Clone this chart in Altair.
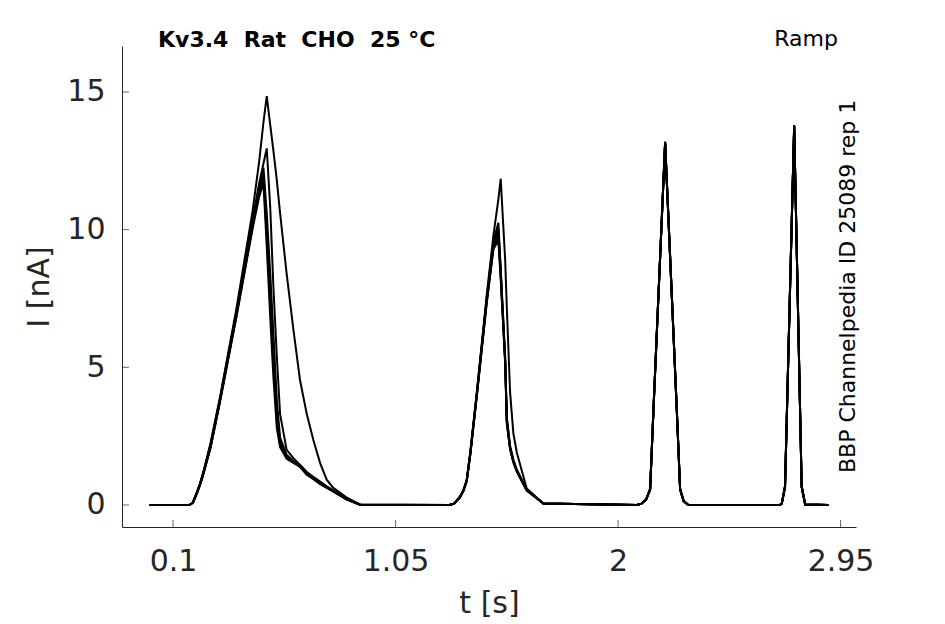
import altair as alt
import pandas as pd

# ---- data ----
T = [0.0, 0.15, 0.17, 0.185, 0.20, 0.215, 0.23, 0.26, 0.30, 0.37, 0.44, 0.468, 0.486, 0.50,
     0.515, 0.528, 0.543, 0.557, 0.585, 0.614, 0.642, 0.671, 0.699, 0.728, 0.756, 0.784, 0.84, 0.898,
     1.28, 1.30, 1.325, 1.34, 1.354, 1.37, 1.397, 1.439, 1.468, 1.489, 1.499, 1.518, 1.525, 1.539, 1.553,
     1.568, 1.61, 1.681,
     2.08, 2.10, 2.12, 2.137, 2.151, 2.201, 2.251, 2.265, 2.28, 2.30,
     2.69, 2.699, 2.713, 2.752, 2.784, 2.799, 2.898]

SWEEP_1 = [0, 0, 0, 0.1, 0.42, 0.78, 1.22, 2.25, 3.9, 7.1, 10.7, 12.5, 13.9, 14.85,
           13.8, 12.9, 11.8, 10.6, 8.4, 6.36, 4.54, 3.3, 2.36, 1.52, 0.92, 0.62, 0.28, 0.02,
           0, 0.05, 0.3, 0.55, 0.92, 2.0, 4.1, 7.6, 9.8, 11.1, 11.85, 8.9, 7.2, 4.1, 2.6,
           1.9, 0.6, 0.05,
           0, 0.05, 0.2, 0.6, 3.45, 13.2, 3.45, 0.6, 0.15, 0,
           0, 0.05, 0.7, 13.8, 0.7, 0.02, 0]
SWEEP_2 = [0, 0, 0, 0.1, 0.41, 0.76, 1.2, 2.2, 3.85, 7.0, 10.4, 11.7, 12.4, 12.95,
           10.8, 8.0, 5.4, 3.3, 2.0, 1.7, 1.45, 1.2, 1.02, 0.85, 0.68, 0.52, 0.22, 0.02,
           0, 0.05, 0.3, 0.54, 0.9, 1.95, 4.05, 7.5, 9.6, 10.25, 8.6, 5.4, 3.2, 2.15, 1.65,
           1.28, 0.56, 0.05,
           0, 0.05, 0.2, 0.58, 3.43, 13.18, 3.43, 0.58, 0.15, 0,
           0, 0.05, 0.68, 13.78, 0.68, 0.02, 0]
SWEEP_3 = [0, 0, 0, 0.09, 0.4, 0.75, 1.18, 2.15, 3.8, 6.95, 10.3, 11.6, 12.25, 10.6,
           8.4, 6.3, 3.8, 2.45, 1.82, 1.6, 1.45, 1.18, 1.0, 0.82, 0.66, 0.52, 0.22, 0.01,
           0, 0.05, 0.29, 0.53, 0.9, 1.95, 4.05, 7.45, 9.5, 10.05, 8.5, 5.3, 3.1, 2.1, 1.6,
           1.25, 0.55, 0.05,
           0, 0.05, 0.2, 0.57, 3.42, 13.17, 3.42, 0.57, 0.14, 0,
           0, 0.05, 0.67, 13.77, 0.67, 0.02, 0]
SWEEP_4 = [0, 0, 0, 0.09, 0.4, 0.74, 1.16, 2.12, 3.78, 6.9, 10.2, 11.5, 12.05, 10.2,
           7.8, 5.7, 3.4, 2.3, 1.76, 1.57, 1.42, 1.15, 0.98, 0.8, 0.65, 0.5, 0.21, 0.01,
           0, 0.05, 0.28, 0.52, 0.88, 1.92, 4.0, 7.4, 9.4, 9.9, 8.4, 5.25, 3.05, 2.08, 1.58,
           1.24, 0.54, 0.05,
           0, 0.05, 0.19, 0.56, 3.41, 13.16, 3.41, 0.56, 0.14, 0,
           0, 0.05, 0.66, 13.76, 0.66, 0.02, 0]
SWEEP_5 = [0, 0, 0, 0.08, 0.39, 0.73, 1.15, 2.1, 3.75, 6.85, 10.15, 11.35, 11.9, 9.8,
           7.3, 5.2, 3.1, 2.2, 1.72, 1.55, 1.4, 1.12, 0.96, 0.78, 0.63, 0.5, 0.2, 0.01,
           0, 0.05, 0.28, 0.52, 0.87, 1.9, 3.98, 7.35, 9.35, 9.75, 8.3, 5.2, 3.0, 2.05, 1.56,
           1.22, 0.53, 0.05,
           0, 0.05, 0.19, 0.55, 3.4, 13.15, 3.4, 0.55, 0.14, 0,
           0, 0.05, 0.65, 13.75, 0.65, 0.02, 0]
SWEEP_6 = [0, 0, 0, 0.08, 0.38, 0.72, 1.13, 2.07, 3.72, 6.8, 10.05, 11.2, 11.7, 9.4,
           6.8, 4.7, 2.8, 2.1, 1.68, 1.53, 1.38, 1.1, 0.94, 0.76, 0.62, 0.48, 0.2, 0.01,
           0, 0.05, 0.27, 0.51, 0.86, 1.88, 3.95, 7.3, 9.3, 9.6, 8.2, 5.15, 2.95, 2.02, 1.55,
           1.2, 0.52, 0.05,
           0, 0.05, 0.19, 0.55, 3.4, 13.14, 3.4, 0.55, 0.14, 0,
           0, 0.05, 0.65, 13.74, 0.65, 0.02, 0]

SWEEPS = [SWEEP_1, SWEEP_2, SWEEP_3, SWEEP_4, SWEEP_5, SWEEP_6]

X_TICKS = [0.1, 1.05, 2, 2.95]
Y_TICKS = [0, 5, 10, 15]
X_DOMAIN = [-0.118, 3.016]
Y_DOMAIN = [-0.8, 16.67]

TITLE = "Kv3.4\u00a0\u00a0Rat\u00a0\u00a0CHO\u00a0\u00a025 °C"
PROTOCOL = "Ramp"
SIDE = "BBP Channelpedia ID 25089 rep 1"

rows = []
for k, s in enumerate(SWEEPS):
    for t, v in zip(T, s):
        rows.append({"t": t, "I": v, "sweep": k, "order": t})
df = pd.DataFrame(rows)

FONT = "DejaVu Sans"
AX = "#262626"

xscale = alt.Scale(domain=X_DOMAIN, nice=False, zero=False)
yscale = alt.Scale(domain=Y_DOMAIN, nice=False, zero=False)

lines = alt.Chart(df).mark_line(color="black", strokeWidth=2, clip=True).encode(
    x=alt.X("t:Q", scale=xscale, title="t [s]",
            axis=alt.Axis(values=X_TICKS, labelExpr="format(datum.value, '~g')",
                          ticks=False, tickSize=0,
                          grid=False, labelPadding=19, titlePadding=12)),
    y=alt.Y("I:Q", scale=yscale, title="I [nA]",
            axis=alt.Axis(values=Y_TICKS, labelExpr="format(datum.value, 'd')",
                          ticks=False, tickSize=0,
                          grid=False, labelPadding=17, titlePadding=12)),
    detail="sweep:N",
    order="order:Q",
)

xt = alt.Chart(pd.DataFrame({"t": X_TICKS})).mark_tick(
    clip=True, size=14, thickness=1, color=AX, orient="vertical"
).encode(x=alt.X("t:Q", scale=xscale), y=alt.datum(Y_DOMAIN[0]))

yt = alt.Chart(pd.DataFrame({"I": Y_TICKS})).mark_tick(
    clip=True, size=14, thickness=1, color=AX, orient="horizontal"
).encode(y=alt.Y("I:Q", scale=yscale), x=alt.datum(X_DOMAIN[0]))

title_txt = alt.Chart(pd.DataFrame({"label": [TITLE]})).mark_text(
    font=FONT, fontSize=22, fontWeight="bold", color="black", align="left", baseline="alphabetic"
).encode(text="label:N", x=alt.datum(0.036), y=alt.datum(16.63))

proto_txt = alt.Chart(pd.DataFrame({"label": [PROTOCOL]})).mark_text(
    font=FONT, fontSize=22, color="black", align="right", baseline="alphabetic"
).encode(text="label:N", x=alt.datum(2.939), y=alt.datum(16.67))

side_txt = alt.Chart(pd.DataFrame({"label": [SIDE]})).mark_text(
    font=FONT, fontSize=22, color="black", align="left", baseline="alphabetic", angle=270
).encode(text="label:N", x=alt.datum(3.012), y=alt.datum(1.16))

chart = alt.layer(lines, xt, yt, title_txt, proto_txt, side_txt).properties(
    width=734, height=481,
    padding={"left": 114, "top": 38, "right": 70, "bottom": 94},
    autosize=alt.AutoSizeParams(type="none"),
    background="white",
).configure_view(stroke=None).configure_axis(
    domainColor=AX, domainWidth=1, labelColor=AX, titleColor=AX,
    labelFont=FONT, titleFont=FONT, labelFontSize=30, titleFontSize=30,
    titleFontWeight="normal",
)

chart.save("out.html", embed_options={"renderer": "svg", "actions": False})
